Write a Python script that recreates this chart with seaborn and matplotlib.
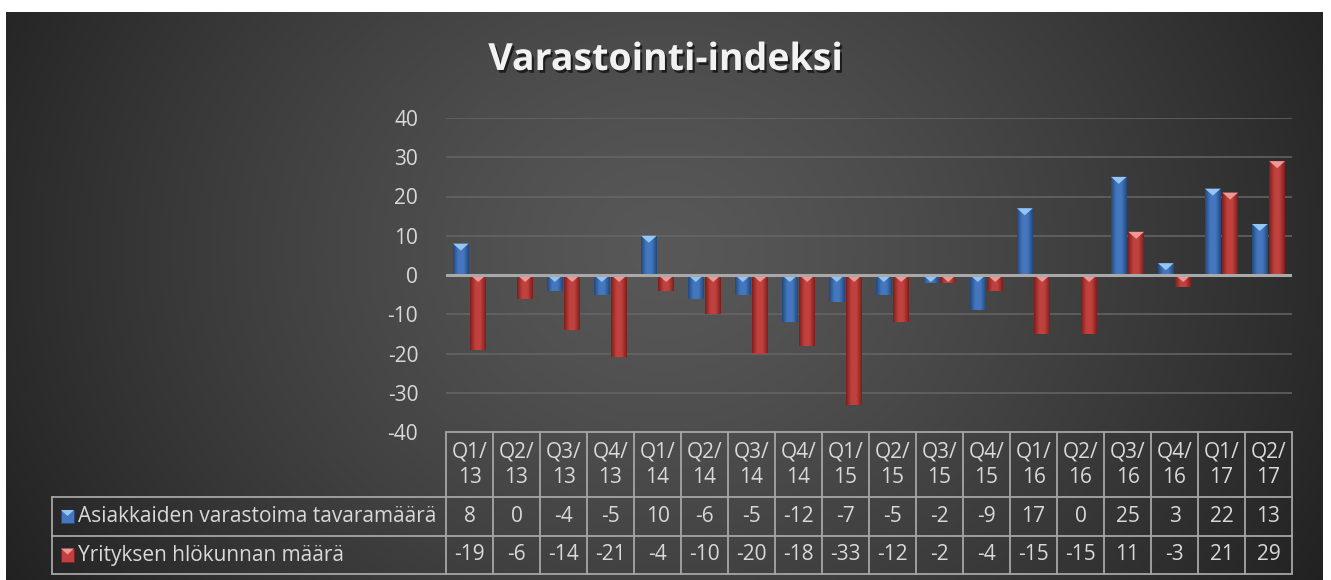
import numpy as np
import pandas as pd
import matplotlib
matplotlib.use("Agg")
import matplotlib.pyplot as plt
import matplotlib.patheffects as pe
from matplotlib.colors import LinearSegmentedColormap
from matplotlib.patches import Polygon, Rectangle
from matplotlib.transforms import blended_transform_factory
import seaborn as sns

kvartaalit = ["Q1/\n13", "Q2/\n13", "Q3/\n13", "Q4/\n13", "Q1/\n14", "Q2/\n14",
              "Q3/\n14", "Q4/\n14", "Q1/\n15", "Q2/\n15", "Q3/\n15", "Q4/\n15",
              "Q1/\n16", "Q2/\n16", "Q3/\n16", "Q4/\n16", "Q1/\n17", "Q2/\n17"]
asiakkaat = [8, 0, -4, -5, 10, -6, -5, -12, -7, -5, -2, -9, 17, 0, 25, 3, 22, 13]
henkilosto = [-19, -6, -14, -21, -4, -10, -20, -18, -33, -12, -2, -4, -15, -15, 11, -3, 21, 29]
sarjat = ["Asiakkaiden varastoima tavaramäärä", "Yrityksen hlökunnan määrä"]
yticks = [-40, -30, -20, -10, 0, 10, 20, 30, 40]

sininen = "#4477bf"
punainen = "#c0413e"
kolmio = {sininen: "#94c6f4", punainen: "#f19896"}
tumma = {sininen: "#23497e", punainen: "#7e1e1c"}
teksti = "#d9d9d9"
fs = 15

sns.set_style("white")
plt.rcParams["font.family"] = ["Open Sans", "DejaVu Sans"]

df = pd.DataFrame({
    "kvartaali": kvartaalit * 2,
    "arvo": asiakkaat + henkilosto,
    "sarja": [sarjat[0]] * len(kvartaalit) + [sarjat[1]] * len(kvartaalit),
})

W, H = 1331, 580
fig = plt.figure(figsize=(W / 100, H / 100), dpi=100)
fig.patch.set_facecolor("white")

def px(x0, y0, x1, y1):
    return [x0 / W, 1 - y1 / H, (x1 - x0) / W, (y1 - y0) / H]

# dark radial background
bg = fig.add_axes(px(6, 12, 1323, 580), zorder=0)
gx, gy = np.meshgrid(np.linspace(0, 1, 400), np.linspace(0, 1, 200))
r = np.sqrt(((gx - 0.5) / 0.55) ** 2 + ((gy - 0.42) / 1.1) ** 2)
shade = np.clip(0.345 - 0.2 * r ** 1.3, 0.13, 1)
bg.imshow(np.dstack([shade] * 3), aspect="auto", extent=[0, 1, 0, 1], origin="upper")
bg.set_axis_off()

ax = fig.add_axes(px(446, 118, 1292, 432), zorder=2)
ax.patch.set_alpha(0)
sns.barplot(data=df, x="kvartaali", y="arvo", hue="sarja", palette=[sininen, punainen],
            width=0.74, gap=0.1, saturation=1, legend=False, ax=ax, zorder=3,
            linewidth=0, edgecolor="none")

ax.set_ylim(-40, 40)
ax.set_xlim(-0.5, len(kvartaalit) - 0.5)
ax.set_yticks(yticks)
ax.set_yticklabels([str(t) for t in yticks], color=teksti, fontsize=fs)
ax.tick_params(axis="y", length=0, pad=20)
ax.set_xticks([])
ax.set_xlabel("")
ax.set_ylabel("")
for s in ax.spines.values():
    s.set_visible(False)
for t in yticks:
    if t == 0:
        ax.axhline(0, color="#a9a9a9", lw=2.2, zorder=5)
    elif t != -40:
        ax.axhline(t, color="#666666", lw=1.1, zorder=1)

# bevel look on bars
cmap_cache = {}
yscale = ax.bbox.height / 80.0
for p in list(ax.patches):
    if not isinstance(p, Rectangle):
        continue
    h = p.get_height()
    if h == 0:
        p.set_visible(False)
        continue
    c = matplotlib.colors.to_hex(p.get_facecolor())
    x0, w = p.get_x(), p.get_width()
    lo, hi = min(p.get_y(), p.get_y() + h), max(p.get_y(), p.get_y() + h)
    if c not in cmap_cache:
        cmap_cache[c] = LinearSegmentedColormap.from_list(c, [tumma[c], c, c, tumma[c]])
    grad = np.linspace(0, 1, 50)[None, :]
    im = ax.imshow(grad, cmap=cmap_cache[c], aspect="auto", extent=[x0, x0 + w, lo, hi],
                   zorder=3.5, interpolation="bilinear")
    im.set_clip_path(p)
    th = min(7 / yscale, hi - lo)
    ax.add_patch(Polygon([[x0, hi], [x0 + w, hi], [x0 + w / 2, hi - th]], closed=True,
                         facecolor=kolmio[c], edgecolor="none", zorder=4))
ax.set_xlim(-0.5, len(kvartaalit) - 0.5)
ax.set_ylim(-40, 40)

# data table under the chart
tax = fig.add_axes(px(52, 432, 1292, 574), zorder=2)
tax.set_axis_off()
tax.set_ylim(574, 432)
trans = blended_transform_factory(ax.transData, tax.transData)
fig_tr = blended_transform_factory(fig.transFigure, tax.transData)
viiva = dict(color="#a6a6a6", lw=1.3, clip_on=False)
n = len(kvartaalit)
rivit = [432, 497, 536, 574]
vasen = 52 / W

tax.plot([-0.5, n - 0.5], [432, 432], transform=trans, **viiva)
for yy in rivit[1:]:
    tax.plot([vasen, 1292 / W], [yy, yy], transform=fig_tr, **viiva)
for i in range(n + 1):
    tax.plot([i - 0.5, i - 0.5], [432, 574], transform=trans, **viiva)
tax.plot([vasen, vasen], [497, 574], transform=fig_tr, **viiva)

for i, k in enumerate(kvartaalit):
    tax.text(i, 464.5, k, transform=trans, ha="center", va="center", color=teksti,
             fontsize=fs, linespacing=1.3)
    tax.text(i, 516.5, str(asiakkaat[i]), transform=trans, ha="center", va="center",
             color=teksti, fontsize=fs)
    tax.text(i, 555, str(henkilosto[i]), transform=trans, ha="center", va="center",
             color=teksti, fontsize=fs)

for yy, nimi, c in [(516.5, sarjat[0], sininen), (555, sarjat[1], punainen)]:
    kx = 61 / W
    tax.add_patch(Rectangle((kx, yy - 6.5), 13 / W, 13, transform=fig_tr, facecolor=c,
                            edgecolor=tumma[c], lw=0.6, clip_on=False))
    tax.add_patch(Polygon([[kx, yy - 6.5], [kx + 13 / W, yy - 6.5], [kx + 6.5 / W, yy - 0.5]],
                          transform=fig_tr, facecolor=kolmio[c], edgecolor="none", clip_on=False))
    tax.text(78 / W, yy, nimi, transform=fig_tr, ha="left", va="center", color=teksti,
             fontsize=fs)

fig.text(0.5, 1 - 60 / H, "Varastointi-indeksi", ha="center", va="center", color="#f2f2f2",
         fontsize=27, fontweight="bold",
         path_effects=[pe.withSimplePatchShadow(offset=(1.5, -2), shadow_rgbFace="black", alpha=0.6)])

fig.savefig("out.png", dpi=100, facecolor="white")
